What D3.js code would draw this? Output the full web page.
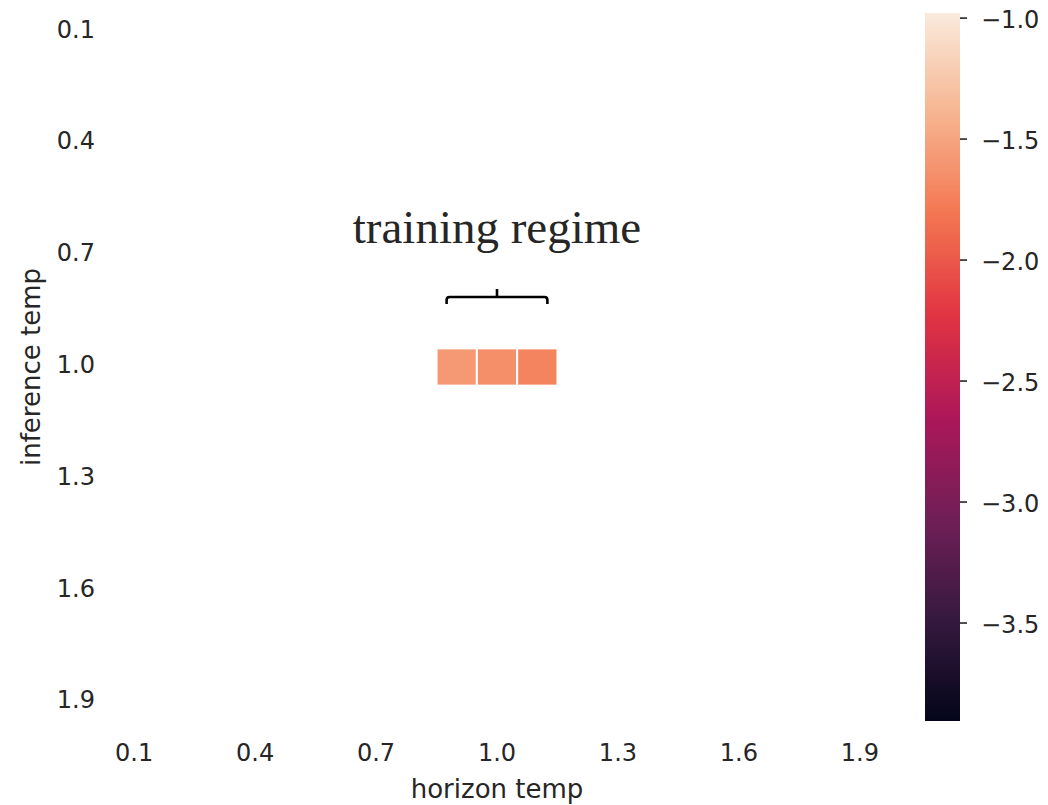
<!DOCTYPE html>
<html>
<head>
<meta charset="utf-8">
<script src="https://cdn.jsdelivr.net/npm/d3@7"></script>
<style>
  html, body { margin: 0; padding: 0; background: #fff; }
  svg { display: block; }
  text { font-family: "DejaVu Sans", sans-serif; fill: #262626; }
</style>
</head>
<body>
<svg id="chart" width="1048" height="805"></svg>
<script>
// Grid axes: horizon temperature (columns) and inference temperature (rows)
const horizonTemps = [0.1, 0.2, 0.3, 0.4, 0.5, 0.6, 0.7, 0.8, 0.9, 1.0,
                      1.1, 1.2, 1.3, 1.4, 1.5, 1.6, 1.7, 1.8, 1.9];
const inferenceTemps = [0.1, 0.2, 0.3, 0.4, 0.5, 0.6, 0.7, 0.8, 0.9, 1.0,
                        1.1, 1.2, 1.3, 1.4, 1.5, 1.6, 1.7, 1.8, 1.9];

// Evaluated cells (all other cells have no score)
const cellHorizon = [0.9, 1.0, 1.1];
const cellInference = [1.0, 1.0, 1.0];
const cellScore = [-1.58, -1.65, -1.72];

// Colour bar range and ticks
const colorDomain = [-3.907, -0.981];
const colorTicks = [-1.0, -1.5, -2.0, -2.5, -3.0, -3.5];
const tickLabels = ["0.1", "0.4", "0.7", "1.0", "1.3", "1.6", "1.9"];

// Bracket spanning the training regime columns
const regimeStart = 0.9, regimeMid = 1.0, regimeEnd = 1.1;
const regimeLabel = "training regime";

// seaborn "rocket" colormap control colours
const rocketStops = ["#03051a", "#35193e", "#701f57", "#ad1759",
                     "#e13342", "#f37651", "#f6b48f", "#faebdd"];
const rocketPos = [0, 1/7, 2/7, 3/7, 4/7, 5/7, 6/7, 1];
const rocket = d3.scaleLinear().domain(rocketPos).range(rocketStops)
  .interpolate(d3.interpolateRgb).clamp(true);

const svg = d3.select("#chart");
const plotLeft = 114, plotRight = 880, plotTop = 13, plotBottom = 721;

const fmt = d => d.toFixed(1);
const x = d3.scaleBand().domain(horizonTemps.map(fmt)).range([plotLeft, plotRight]);
const y = d3.scaleBand().domain(inferenceTemps.map(fmt)).range([plotTop, plotBottom]);
const valueToT = d3.scaleLinear().domain(colorDomain).range([0, 1]).clamp(true);
const color = v => rocket(valueToT(v));

// Heatmap cells
const cells = cellScore.map((v, i) => ({h: fmt(cellHorizon[i]), r: fmt(cellInference[i]), v}));
svg.append("g").selectAll("rect").data(cells).join("rect")
  .attr("x", d => x(d.h))
  .attr("y", d => y(d.r))
  .attr("width", x.bandwidth())
  .attr("height", y.bandwidth())
  .attr("fill", d => color(d.v))
  .attr("stroke", "#fff")
  .attr("stroke-width", 2);

// X axis tick labels
const xAxis = svg.append("g").attr("transform", `translate(0,${plotBottom})`)
  .call(d3.axisBottom(x).tickValues(tickLabels).tickSize(0).tickPadding(0));
xAxis.select(".domain").remove();
xAxis.selectAll("text").attr("font-size", 24).attr("dy", null)
  .attr("y", 40).style("font-family", "DejaVu Sans").attr("fill", "#262626");

// Y axis tick labels
const yAxis = svg.append("g").attr("transform", `translate(${plotLeft},0)`)
  .call(d3.axisLeft(y).tickValues(tickLabels).tickSize(0).tickPadding(19));
yAxis.select(".domain").remove();
yAxis.selectAll("text").attr("font-size", 24).attr("dy", "0.25em")
  .style("font-family", "DejaVu Sans").attr("fill", "#262626");

// Axis titles
svg.append("text")
  .attr("x", (plotLeft + plotRight) / 2).attr("y", 798)
  .attr("text-anchor", "middle").attr("font-size", 26)
  .text("horizon temp");
svg.append("text")
  .attr("transform", `translate(40,${(plotTop + plotBottom) / 2}) rotate(-90)`)
  .attr("text-anchor", "middle").attr("font-size", 26)
  .text("inference temp");

// Colour bar
const cbX = 925, cbW = 35;
const cbY = d3.scaleLinear().domain(colorDomain).range([plotBottom, plotTop]);
const grad = svg.append("defs").append("linearGradient")
  .attr("id", "cbar").attr("x1", 0).attr("y1", 1).attr("x2", 0).attr("y2", 0);
d3.range(0, 1.0001, 0.02).forEach(t => {
  grad.append("stop").attr("offset", t).attr("stop-color", rocket(t));
});
svg.append("rect").attr("x", cbX).attr("y", plotTop)
  .attr("width", cbW).attr("height", plotBottom - plotTop).attr("fill", "url(#cbar)");
const cbAxis = svg.append("g").attr("transform", `translate(${cbX + cbW},0)`)
  .call(d3.axisRight(cbY).tickValues(colorTicks).tickSize(7).tickPadding(14)
    .tickFormat(d => d3.format(".1f")(d).replace("-", "\u2212")));
cbAxis.select(".domain").remove();
cbAxis.selectAll("line").attr("stroke", "#262626").attr("stroke-width", 1.6);
cbAxis.selectAll("text").attr("font-size", 24).attr("dy", "0.4em")
  .style("font-family", "DejaVu Sans").attr("fill", "#262626");

// Training regime bracket and label
const bw = x.bandwidth();
const bx0 = x(fmt(regimeStart)) + bw * 0.25;
const bx1 = x(fmt(regimeEnd)) + bw * 0.75;
const bxm = x(fmt(regimeMid)) + bw / 2;
const by = 297, br = 3;
const brace = d3.path();
brace.moveTo(bx0, by + 7);
brace.lineTo(bx0, by + br);
brace.quadraticCurveTo(bx0, by, bx0 + br, by);
brace.lineTo(bx1 - br, by);
brace.quadraticCurveTo(bx1, by, bx1, by + br);
brace.lineTo(bx1, by + 7);
brace.moveTo(bxm, by);
brace.lineTo(bxm, by - 8);
svg.append("path").attr("d", brace.toString())
  .attr("fill", "none").attr("stroke", "#000").attr("stroke-width", 2.6);

svg.append("text")
  .attr("x", bxm).attr("y", 243)
  .attr("text-anchor", "middle")
  .style("font-family", "'Liberation Serif', 'Times New Roman', serif")
  .attr("font-size", 47).attr("fill", "#000")
  .text(regimeLabel);
</script>
</body>
</html>
